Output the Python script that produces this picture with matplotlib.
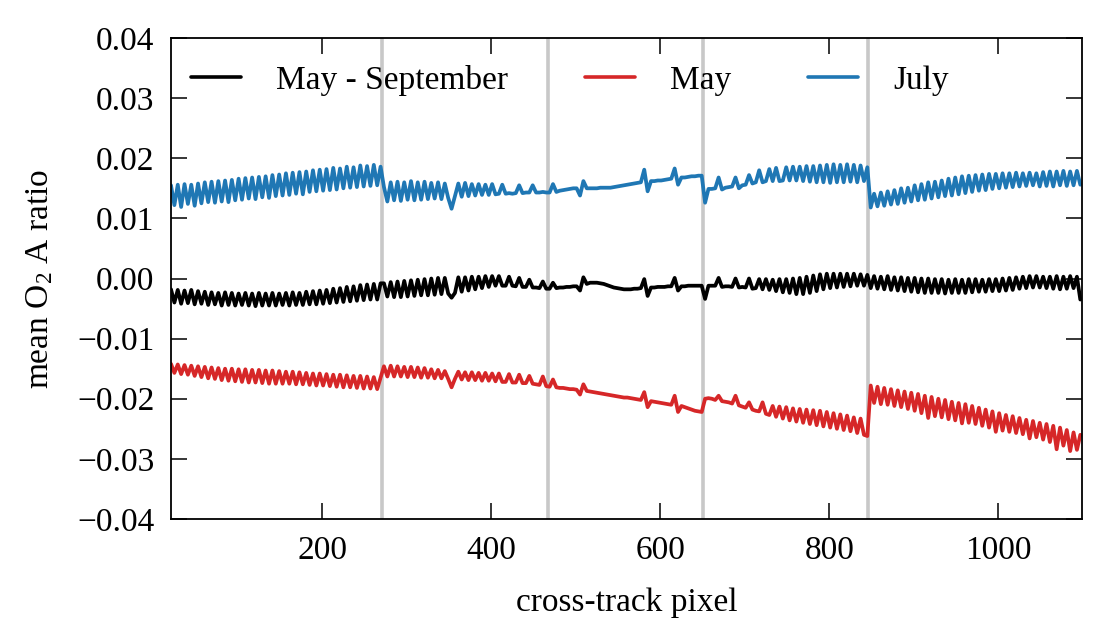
import numpy as np
import matplotlib
matplotlib.use("Agg")
import matplotlib.pyplot as plt
from matplotlib.ticker import FuncFormatter

plt.rcParams['font.family'] = ['Liberation Serif', 'DejaVu Serif']
plt.rcParams['mathtext.fontset'] = 'custom'
plt.rcParams['mathtext.rm'] = 'Liberation Serif'
plt.rcParams['mathtext.it'] = 'Liberation Serif:italic'
plt.rcParams['axes.unicode_minus'] = True

# ---------------- data ----------------
pixel_start = 21          # first cross-track pixel sampled
pixel_step = 4            # sampling step of the cross-track pixel
segment_edges = [271, 467, 651, 846]
series_labels = ['May - September', 'May', 'July']
series_colors = ['black', '#d62728', '#1f77b4']

# mean O2 A ratio, in units of 1e-4
may_sep = [
    -18, -40, -19, -42, -20, -41, -19, -43, -21, -42,
    -22, -44, -23, -43, -24, -45, -23, -44, -24, -45,
    -25, -44, -24, -45, -25, -46, -24, -45, -25, -45,
    -24, -45, -25, -44, -24, -45, -23, -44, -24, -44,
    -22, -43, -21, -43, -20, -42, -19, -41, -17, -40,
    -16, -39, -14, -38, -13, -37, -11, -36, -10, -35,
    -9, -35, -8,
    -8, -30, -6, -31, -5, -31, -4, -30, -3, -29,
    -2, -28, -1, -28, 0, -27, 1, -26, 1, -25,
    -32, -24, 2, -22, 2, -20, 3, -18, 3, -16,
    4, -14, 4, -12, 4, -12, -12, 3, -12, -13,
    1, -14, -14, -2, -15, -15, -16, -5, -17,
    -17, -7, -16, -15, -15, -14, -14, -13, -13, -20,
    2, -9, -7, -7, -7, -8, -9, -11, -13, -15,
    -16, -17, -18, -18, -18, -17, -17, -16, -1, -29,
    -15, -15, -14, -14, -14, -13, -13, 1, -20, -13,
    -13, -12, -12, -12, -12, -12,
    -34, -12, -12, -12, 1, -14, -13, -13, -14, 0,
    -15, -14, -15, 0, -17, -16, -1, -18, -1, -19,
    -2, -21, -1, -23, -1, -24, 0, -26, 1, -26,
    3, -24, 5, -21, 7, -18, 8, -16, 8, -15,
    8, -14, 8, -13, 8, -12, 7, -12, 6,
    -16, 4, -17, 3, -18, 4, -19, 2, -20, 2,
    -21, 1, -22, 1, -23, 0, -24, 0, -24, -1,
    -24, -1, -25, -2, -24, -1, -24, -2, -24, -1,
    -23, -1, -22, -2, -22, -1, -21, -1, -21, 0,
    -20, 1, -19, 2, -17, 3, -16, 4, -15, 4,
    -15, 3, -16, 3, -17, 4, -18, 3, -17, 4,
    -16, 3, -35,
]

may = [
    -142, -157, -143, -159, -144, -160, -145, -162, -146, -164,
    -147, -166, -148, -167, -149, -169, -150, -170, -150, -171,
    -151, -172, -151, -173, -152, -173, -152, -174, -153, -175,
    -153, -175, -154, -175, -155, -175, -155, -176, -156, -176,
    -157, -177, -158, -178, -158, -178, -159, -179, -160, -180,
    -160, -181, -161, -181, -162, -182, -162, -183, -163, -183,
    -164, -184, -165,
    -146, -163, -145, -163, -146, -163, -147, -164, -147, -164,
    -148, -165, -149, -165, -151, -166, -152, -166, -154, -167,
    -181, -167, -155, -168, -156, -169, -156, -169, -157, -170,
    -157, -170, -158, -171, -158, -172, -172, -159, -173, -173,
    -160, -174, -174, -162, -175, -176, -177, -163, -179,
    -180, -168, -181, -182, -182, -183, -184, -184, -185, -193,
    -176, -187, -188, -189, -190, -191, -192, -193, -194, -195,
    -196, -197, -198, -198, -199, -200, -201, -202, -189, -214,
    -204, -205, -206, -207, -208, -209, -210, -195, -222, -212,
    -214, -216, -218, -220, -221, -222,
    -200, -199, -200, -202, -195, -204, -205, -206, -208, -195,
    -211, -213, -215, -206, -218, -220, -221, -206, -225, -227,
    -212, -230, -213, -233, -214, -236, -216, -238, -217, -240,
    -218, -242, -219, -244, -220, -246, -222, -248, -224, -250,
    -226, -252, -228, -254, -231, -257, -233, -260, -262,
    -178, -207, -180, -209, -182, -210, -184, -212, -186, -214,
    -188, -217, -190, -220, -192, -224, -195, -232, -197, -229,
    -200, -231, -202, -234, -205, -236, -207, -241, -209, -240,
    -212, -242, -215, -245, -218, -248, -221, -255, -224, -253,
    -227, -255, -229, -257, -232, -259, -235, -266, -237, -264,
    -240, -268, -242, -272, -245, -284, -248, -278, -252, -287,
    -256, -285, -260,
]

july = [
    155, 122, 156, 119, 157, 124, 156, 121, 158, 125,
    160, 127, 161, 126, 162, 128, 163, 127, 164, 130,
    166, 131, 167, 133, 168, 132, 169, 135, 170, 134,
    172, 137, 173, 138, 175, 139, 176, 141, 177, 140,
    178, 144, 180, 145, 181, 146, 182, 147, 184, 148,
    183, 150, 186, 151, 185, 152, 188, 153, 187, 154,
    189, 155, 186,
    152, 128, 160, 130, 161, 129, 160, 131, 162, 130,
    160, 131, 161, 132, 159, 133, 160, 132, 158, 134,
    116, 137, 158, 136, 159, 137, 157, 138, 157, 139,
    156, 139, 157, 140, 141, 156, 141, 142, 141, 142,
    155, 142, 143, 143, 155, 143, 143, 144, 143,
    143, 157, 144, 146, 147, 148, 149, 150, 150, 138,
    162, 150, 150, 150, 150, 151, 151, 151, 151, 152,
    153, 154, 155, 156, 157, 158, 159, 160, 181, 145,
    162, 162, 163, 163, 164, 165, 166, 183, 156, 168,
    168, 169, 170, 170, 171, 171,
    126, 149, 149, 150, 168, 148, 151, 152, 153, 168,
    150, 155, 156, 172, 158, 160, 180, 160, 162, 182,
    162, 184, 162, 163, 185, 163, 186, 163, 186, 162,
    187, 161, 187, 160, 188, 160, 189, 159, 190, 160,
    189, 160, 190, 161, 189, 160, 188, 162, 185,
    118, 141, 120, 143, 121, 145, 123, 147, 124, 150,
    126, 151, 128, 155, 130, 157, 131, 160, 133, 161,
    135, 163, 137, 166, 138, 168, 140, 170, 142, 171,
    144, 172, 146, 173, 147, 174, 149, 174, 150, 175,
    151, 175, 152, 176, 153, 175, 154, 176, 155, 175,
    153, 177, 154, 178, 153, 178, 155, 179, 154, 178,
    155, 179, 156,
]

y_ticks = [-0.04, -0.03, -0.02, -0.01, 0.00, 0.01, 0.02, 0.03, 0.04]
x_ticks = [200, 400, 600, 800, 1000]

# ---------------- figure ----------------
FS = 24
fig = plt.figure(figsize=(11.08, 6.35), dpi=100)
ax = fig.add_axes([171 / 1108, 1 - 519 / 635, (1082 - 171) / 1108, (519 - 38) / 635])

for xe in segment_edges:
    ax.axvline(xe, color='#c8c8c8', lw=2.6, zorder=1)

for vals, lab, col in zip([may_sep, may, july], series_labels, series_colors):
    v = np.asarray(vals, dtype=float) * 1e-4
    x = pixel_start + pixel_step * np.arange(len(v))
    ax.plot(x, v, color=col, lw=2.7, label=lab, zorder=2,
            solid_joinstyle='round', solid_capstyle='round')

ax.set_xlim(21, 1099)
ax.set_ylim(-0.04, 0.04)
ax.set_xticks(x_ticks)
ax.set_yticks(y_ticks)
ax.yaxis.set_major_formatter(FuncFormatter(lambda v, p: f"{v:.2f}".replace('-', '\u2212')))
ax.xaxis.set_major_formatter(FuncFormatter(lambda v, p: f"{int(round(v))}"))

ax.tick_params(which='major', direction='in', length=11.5, width=1.1,
               top=True, right=True, labelsize=FS, pad=12)
ax.tick_params(which='minor', bottom=False, top=False, left=False, right=False)
for s in ax.spines.values():
    s.set_linewidth(1.3)

ax.set_xlabel('cross-track pixel', fontsize=FS, labelpad=15)
ax.set_ylabel(r'mean O$_2$ A ratio', fontsize=FS, labelpad=16)

leg = ax.legend(loc='upper left', bbox_to_anchor=(0.0077, 0.972), ncol=3,
                frameon=False, fontsize=FS,
                handlelength=1.5, handletextpad=1.05, columnspacing=2.3,
                borderaxespad=0.0, borderpad=0.4)
for h in leg.get_lines():
    h.set_linewidth(2.6)

fig.savefig('out.png', dpi=100)
